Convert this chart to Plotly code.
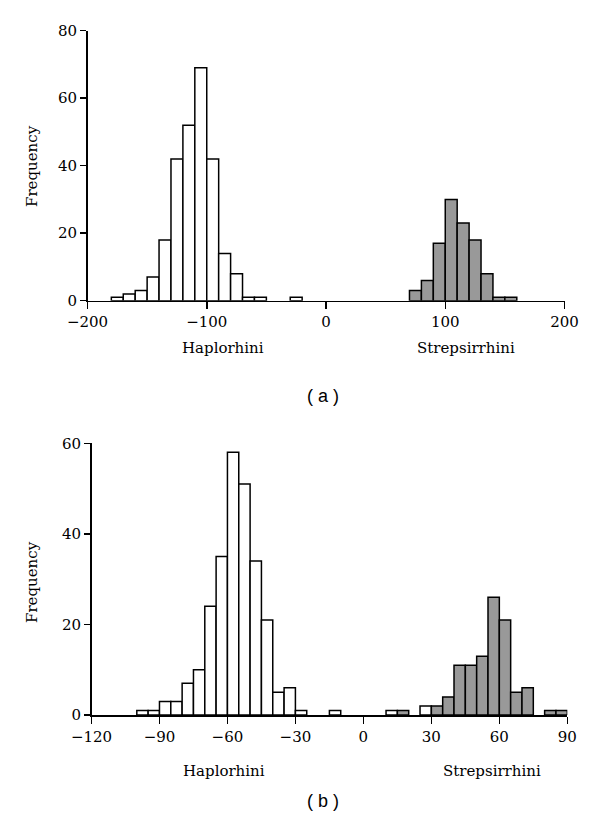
import plotly.graph_objects as go

# ---- Data (bin centres and frequencies) ----
# Panel (a): bin width 10
a_hap_x = [-175, -165, -155, -145, -135, -125, -115, -105, -95, -85, -75, -65, -55, -25]
a_hap_y = [1, 2, 3, 7, 18, 42, 52, 69, 42, 14, 8, 1, 1, 1]
a_str_x = [75, 85, 95, 105, 115, 125, 135, 145, 155]
a_str_y = [3, 6, 17, 30, 23, 18, 8, 1, 1]

# Panel (b): bin width 5
b_hap_x = [-97.5, -92.5, -87.5, -82.5, -77.5, -72.5, -67.5, -62.5, -57.5, -52.5,
           -47.5, -42.5, -37.5, -32.5, -27.5, -12.5, 12.5, 27.5]
b_hap_y = [1, 1, 3, 3, 7, 10, 24, 35, 58, 51, 34, 21, 5, 6, 1, 1, 1, 2]
b_str_x = [17.5, 32.5, 37.5, 42.5, 47.5, 52.5, 57.5, 62.5, 67.5, 72.5, 82.5, 87.5]
b_str_y = [1, 2, 4, 11, 11, 13, 26, 21, 5, 6, 1, 1]

a_xticks = [-200, -100, 0, 100, 200]
a_yticks = [0, 20, 40, 60, 80]
b_xticks = [-120, -90, -60, -30, 0, 30, 60, 90]
b_yticks = [0, 20, 40, 60]

group_labels = ["Haplorhini", "Strepsirrhini"]
panel_labels = ["( a )", "( b )"]

W, H = 600, 831
SERIF = "DejaVu Serif"
GRAY = "#999999"

def px(x):
    return x / W

def py(y):
    return (H - y) / H

fig = go.Figure()

bar_line = dict(color="black", width=1.5)
fig.add_trace(go.Bar(x=a_hap_x, y=a_hap_y, width=10, marker=dict(color="white", line=bar_line),
                     xaxis="x", yaxis="y", showlegend=False))
fig.add_trace(go.Bar(x=a_str_x, y=a_str_y, width=10, marker=dict(color=GRAY, line=bar_line),
                     xaxis="x", yaxis="y", showlegend=False))
fig.add_trace(go.Bar(x=b_hap_x, y=b_hap_y, width=5, marker=dict(color="white", line=bar_line),
                     xaxis="x2", yaxis="y2", showlegend=False))
fig.add_trace(go.Bar(x=b_str_x, y=b_str_y, width=5, marker=dict(color=GRAY, line=bar_line),
                     xaxis="x2", yaxis="y2", showlegend=False))

axis_common = dict(showline=True, linecolor="black", linewidth=1.5, ticks="outside",
                   tickcolor="black", tickwidth=1.5, showgrid=False, zeroline=False,
                   automargin=False,
                   tickfont=dict(family=SERIF, size=15, color="black"), fixedrange=True)

fig.update_layout(
    width=W, height=H,
    margin=dict(l=0, r=0, t=0, b=0),
    paper_bgcolor="white", plot_bgcolor="white",
    barmode="overlay", bargap=0,
    xaxis=dict(domain=[px(87.5), px(564.5)], range=[-200, 200], tickvals=a_xticks,
               ticklen=7, anchor="y", **axis_common),
    yaxis=dict(domain=[py(300.7), py(30.7)], range=[0, 80], tickvals=a_yticks,
               ticklen=6, anchor="x", **axis_common),
    xaxis2=dict(domain=[px(91.5), px(567.3)], range=[-120, 90], tickvals=b_xticks,
                ticklen=7, anchor="y2", **axis_common),
    yaxis2=dict(domain=[py(715), py(443.3)], range=[0, 60], tickvals=b_yticks,
                ticklen=6, anchor="x2", **axis_common),
)

ann = []
lab_font = dict(family=SERIF, size=15, color="black")
# Panel (a) group labels
ann.append(dict(x=px(223), y=py(348), text=group_labels[0], font=lab_font))
ann.append(dict(x=px(466), y=py(348), text=group_labels[1], font=lab_font))
# Panel (b) group labels
ann.append(dict(x=px(224), y=py(771), text=group_labels[0], font=lab_font))
ann.append(dict(x=px(492), y=py(771), text=group_labels[1], font=lab_font))
# Frequency titles
ann.append(dict(x=px(32), y=py(166), text="Frequency", textangle=-90, font=lab_font))
ann.append(dict(x=px(32), y=py(582), text="Frequency", textangle=-90, font=lab_font))
# Panel labels
pfont = dict(family="Liberation Sans, Arial", size=18, color="black")
ann.append(dict(x=px(323), y=py(396), text=panel_labels[0], font=pfont))
ann.append(dict(x=px(323), y=py(801), text=panel_labels[1], font=pfont))

for a in ann:
    a.update(xref="paper", yref="paper", showarrow=False, xanchor="center", yanchor="middle")
fig.update_layout(annotations=ann)

fig.write_html("out.html", config={"displayModeBar": False, "staticPlot": True},
               post_script="document.body.style.margin='0';document.body.style.overflow='hidden';")
